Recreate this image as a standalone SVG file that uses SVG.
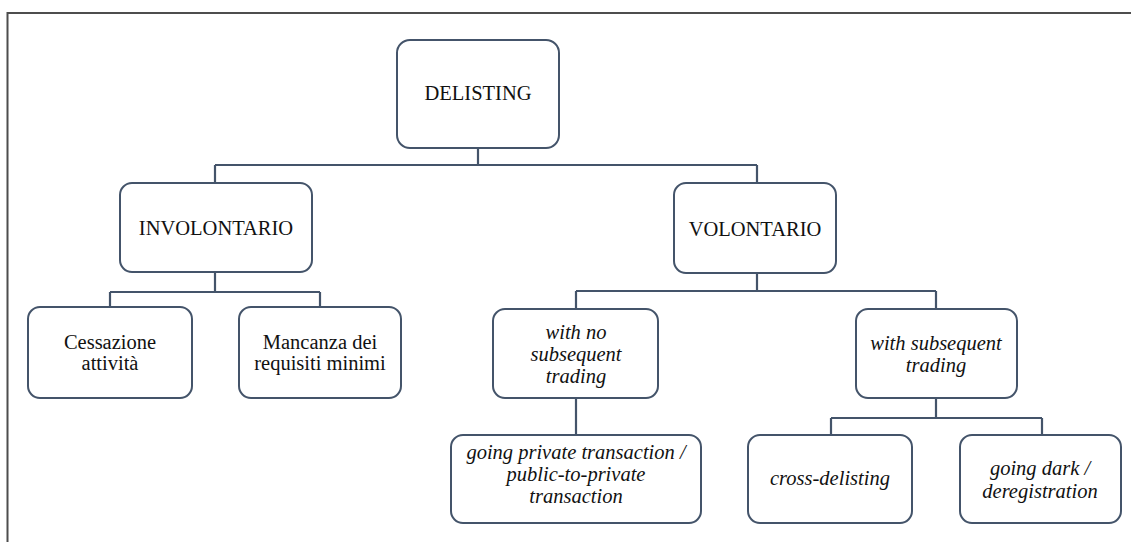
<svg xmlns="http://www.w3.org/2000/svg" width="1131" height="542" viewBox="0 0 1131 542">
<style>
.box{fill:#fff;stroke:#44546a;stroke-width:2}
.con{fill:none;stroke:#44546a;stroke-width:2.2}
.frame{fill:none;stroke:#4d4d4d;stroke-width:2}
text{font-family:"Liberation Serif","Times New Roman",serif;font-size:20.5px;fill:#111;text-anchor:middle}
.it{font-style:italic}
</style>
<rect width="1131" height="542" fill="#fff"/>
<path class="frame" d="M7.5 542 V13 H1131"/>
<g id="connectors">
<path class="con" d="M478 148 V165 M215 165 H757 M215 165 V183 M757 165 V183"/>
<path class="con" d="M215 272 V292 M110 292 H320 M110 292 V307 M320 292 V307"/>
<path class="con" d="M757 273 V291 M576 291 H936 M576 291 V309 M936 291 V309"/>
<path class="con" d="M576 398 V435"/>
<path class="con" d="M936 398 V418 M831 418 H1042 M831 418 V435 M1042 418 V435"/>
</g>
<g id="delisting"><rect class="box" x="397" y="40" width="162" height="108" rx="13"/><text x="478" y="100">DELISTING</text></g>
<g id="involontario"><rect class="box" x="120" y="183" width="192" height="89" rx="12"/><text x="216" y="235">INVOLONTARIO</text></g>
<g id="volontario"><rect class="box" x="674" y="183" width="162" height="90" rx="12"/><text x="755" y="236">VOLONTARIO</text></g>
<g id="cessazione"><rect class="box" x="28" y="307" width="164" height="91" rx="12"/><text x="110" y="349">Cessazione</text><text x="110" y="370">attività</text></g>
<g id="mancanza"><rect class="box" x="239" y="307" width="162" height="91" rx="12"/><text x="320" y="349">Mancanza dei</text><text x="320" y="370">requisiti minimi</text></g>
<g id="no-subsequent"><rect class="box" x="493" y="309" width="165" height="89" rx="12"/><text class="it" x="576" y="339">with no</text><text class="it" x="576" y="361">subsequent</text><text class="it" x="576" y="383">trading</text></g>
<g id="subsequent"><rect class="box" x="856" y="309" width="161" height="89" rx="12"/><text class="it" x="936" y="350">with subsequent</text><text class="it" x="936" y="372">trading</text></g>
<g id="going-private"><rect class="box" x="451" y="435" width="250" height="88" rx="12"/><text class="it" x="576" y="459">going private transaction /</text><text class="it" x="576" y="481">public-to-private</text><text class="it" x="576" y="503">transaction</text></g>
<g id="cross-delisting"><rect class="box" x="748" y="435" width="164" height="88" rx="12"/><text class="it" x="830" y="485">cross-delisting</text></g>
<g id="going-dark"><rect class="box" x="960" y="435" width="161" height="88" rx="12"/><text class="it" x="1040" y="475">going dark /</text><text class="it" x="1040" y="498">deregistration</text></g>
</svg>
